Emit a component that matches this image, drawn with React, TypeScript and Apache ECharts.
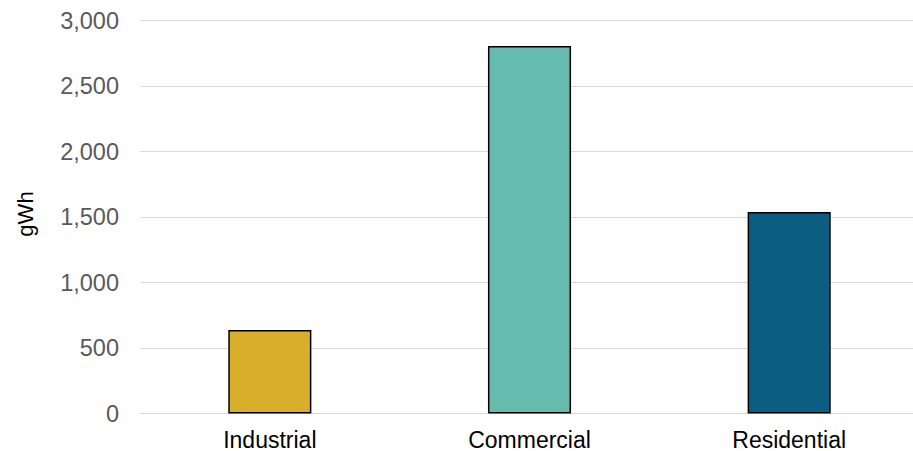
import React, { useEffect, useRef } from "react";
import * as echarts from "echarts";

const categories = ["Industrial", "Commercial", "Residential"];
const values = [637, 2805, 1538];
const colors = ["#D9AE2A", "#64BBAE", "#0B5E82"];
const yTicks = { min: 0, max: 3000, interval: 500 };
const yAxisTitle = "gWh";

export default function App() {
  const ref = useRef<HTMLDivElement>(null);
  useEffect(() => {
    document.body.style.margin = "0";
    const chart = echarts.init(ref.current!, null, { renderer: "svg" });
    chart.setOption({
      animation: false,
      backgroundColor: "#ffffff",
      grid: {
        left: 140,
        top: 20.5,
        width: 779,
        height: 393,
        containLabel: false,
        outerBoundsMode: "none",
      },
      graphic: [
        {
          type: "text",
          x: 25,
          y: 214,
          rotation: Math.PI / 2,
          scaleX: 1.7,
          scaleY: 1.7,
          style: {
            text: yAxisTitle,
            fontSize: 13,
            fontFamily: "Liberation Sans, Arial, sans-serif",
            fill: "#000000",
            align: "center",
            verticalAlign: "middle",
          },
        },
      ],
      xAxis: {
        type: "category",
        data: categories,
        axisLine: { show: true, lineStyle: { color: "#D9D9D9", width: 1 } },
        axisTick: { show: false },
        axisLabel: {
          color: "#000000",
          fontSize: 23,
          lineHeight: 18,
          fontFamily: "Liberation Sans, Arial, sans-serif",
          margin: 17,
        },
      },
      yAxis: {
        type: "value",
        min: yTicks.min,
        max: yTicks.max,
        interval: yTicks.interval,
        axisLine: { show: false },
        axisTick: { show: false },
        splitLine: { lineStyle: { color: "#D9D9D9", width: 1 } },
        axisLabel: {
          color: "#595959",
          fontSize: 23.5,
          fontFamily: "Liberation Sans, Arial, sans-serif",
          margin: 21,
          formatter: (v: number) => v.toLocaleString("en-US"),
        },
      },
      series: [
        {
          type: "bar",
          barWidth: "32%",
          data: values.map((v, i) => ({
            value: v,
            itemStyle: { color: colors[i], borderColor: "#000000", borderWidth: 1.5 },
          })),
        },
      ],
    });
    return () => chart.dispose();
  }, []);
  return <div ref={ref} style={{ width: 913, height: 451 }} />;
}
